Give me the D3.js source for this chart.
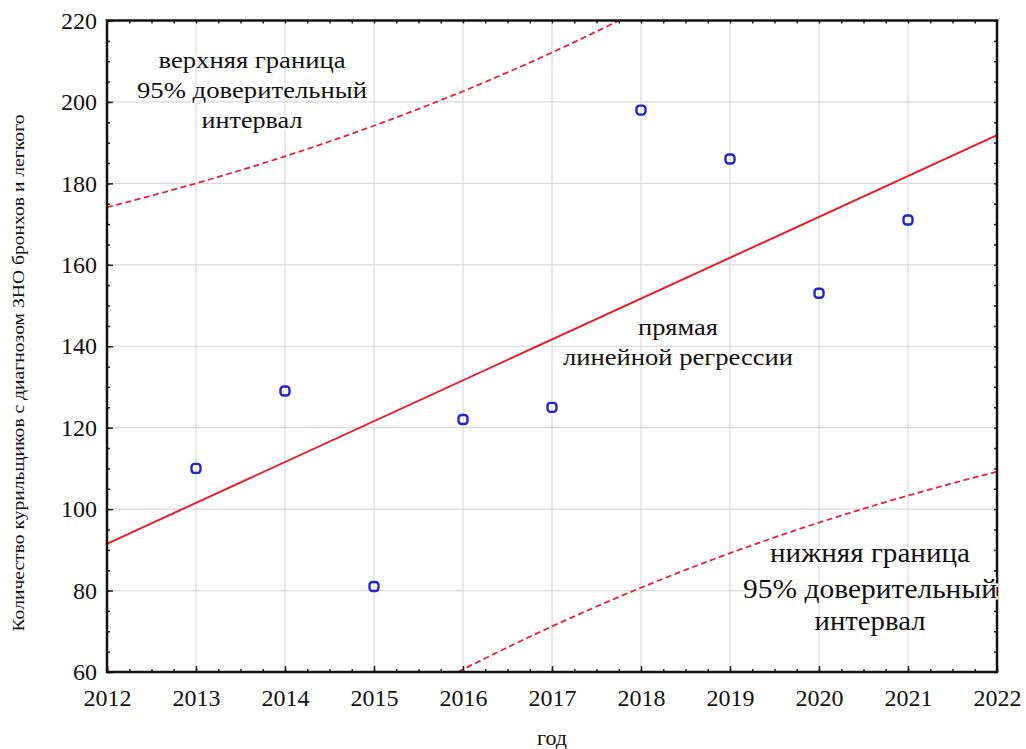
<!DOCTYPE html>
<html>
<head>
<meta charset="utf-8">
<script src="https://cdn.jsdelivr.net/npm/d3@7"></script>
<style>
  html, body { margin: 0; padding: 0; background: #fff; }
  svg { display: block; }
  text { font-family: "Liberation Serif", "Times New Roman", Times, serif; fill: #111; }
</style>
</head>
<body>
<svg id="chart" width="1026" height="749"></svg>
<script>
// Observations: smokers diagnosed with bronchial / lung cancer, by year
const years = [2013, 2014, 2015, 2016, 2017, 2018, 2019, 2020, 2021];
const counts = [110, 129, 81, 122, 125, 198, 186, 153, 171];

const xTicks = [2012, 2013, 2014, 2015, 2016, 2017, 2018, 2019, 2020, 2021, 2022];
const yTicks = [60, 80, 100, 120, 140, 160, 180, 200, 220];

const yTitle = "Количество курильщиков с диагнозом ЗНО бронхов и легкого";
const xTitle = "год";
const upperLabel = ["верхняя граница", "95% доверительный", "интервал"];
const fitLabel = ["прямая", "линейной регрессии"];
const lowerLabel = ["нижняя граница", "95% доверительный", "интервал"];

// Student t quantile, 0.975, df = n - 2 = 7
const tCrit = 2.3646;

const SERIF = '"Liberation Serif", "Times New Roman", Times, serif';
const svg = d3.select("#chart");
const M = { left: 107, right: 997, top: 20.5, bottom: 672 };

const x = d3.scaleLinear().domain([2012, 2022]).range([M.left, M.right]);
const y = d3.scaleLinear().domain([60, 220]).range([M.bottom, M.top]);

// Least-squares fit and 95% prediction band
const n = years.length;
const mx = d3.mean(years), my = d3.mean(counts);
const sxx = d3.sum(years, v => (v - mx) ** 2);
const sxy = d3.sum(years.map((v, i) => (v - mx) * (counts[i] - my)));
const slope = sxy / sxx;
const icpt = my - slope * mx;
const fit = v => icpt + slope * v;
const sse = d3.sum(years.map((v, i) => (counts[i] - fit(v)) ** 2));
const se = Math.sqrt(sse / (n - 2));
const half = v => tCrit * se * Math.sqrt(1 + 1 / n + (v - mx) ** 2 / sxx);

const xs = d3.range(0, 201).map(i => 2012 + i * 0.05);

// clip
svg.append("defs").append("clipPath").attr("id", "plotClip")
  .append("rect").attr("x", M.left).attr("y", M.top)
  .attr("width", M.right - M.left).attr("height", M.bottom - M.top);

// grid
const grid = svg.append("g").attr("stroke", "#dadada").attr("stroke-width", 1.2);
grid.selectAll(".gx").data(xTicks.slice(1, -1)).join("line")
  .attr("x1", d => x(d)).attr("x2", d => x(d))
  .attr("y1", M.top).attr("y2", M.bottom);
grid.selectAll(".gy").data(yTicks.slice(1, -1)).join("line")
  .attr("y1", d => y(d)).attr("y2", d => y(d))
  .attr("x1", M.left).attr("x2", M.right);

// fit + bands
const plot = svg.append("g").attr("clip-path", "url(#plotClip)");
const line = d3.line().x(d => x(d[0])).y(d => y(d[1]));
plot.append("path")
  .attr("d", line(xs.map(v => [v, fit(v) + half(v)])))
  .attr("fill", "none").attr("stroke", "#e3243a").attr("stroke-width", 1.8)
  .attr("stroke-dasharray", "6,3.5");
plot.append("path")
  .attr("d", line(xs.map(v => [v, fit(v) - half(v)])))
  .attr("fill", "none").attr("stroke", "#e3243a").attr("stroke-width", 1.8)
  .attr("stroke-dasharray", "6,3.5");
plot.append("path")
  .attr("d", line([[2012, fit(2012)], [2022, fit(2022)]]))
  .attr("fill", "none").attr("stroke", "#e81e30").attr("stroke-width", 2);

// points
svg.append("g").selectAll("rect").data(years).join("rect")
  .attr("x", (d) => x(d) - 4.5)
  .attr("y", (d, i) => y(counts[i]) - 4.5)
  .attr("width", 9).attr("height", 9).attr("rx", 3)
  .attr("fill", "none").attr("stroke", "#2626c4").attr("stroke-width", 2.4);

// axes (inward ticks)
const xAxis = svg.append("g").attr("transform", `translate(0,${M.bottom})`)
  .call(d3.axisBottom(x).tickValues(xTicks).tickFormat(d3.format("d"))
    .tickSize(-6).tickPadding(17));
const xMinor = svg.append("g").attr("transform", `translate(0,${M.bottom})`)
  .call(d3.axisBottom(x).tickValues(d3.range(2012, 2022.01, 0.25)).tickFormat("")
    .tickSize(-3));
const xTop = svg.append("g").attr("transform", `translate(0,${M.top})`)
  .call(d3.axisTop(x).tickValues(d3.range(2012, 2022.01, 0.25)).tickFormat("")
    .tickSize(-3));
const yAxis = svg.append("g").attr("transform", `translate(${M.left},0)`)
  .call(d3.axisLeft(y).tickValues(yTicks).tickSize(-6).tickPadding(10));
const yMinor = svg.append("g").attr("transform", `translate(${M.left},0)`)
  .call(d3.axisLeft(y).tickValues(d3.range(60, 220.1, 5)).tickFormat("").tickSize(-3));
const yRight = svg.append("g").attr("transform", `translate(${M.right},0)`)
  .call(d3.axisRight(y).tickValues(d3.range(60, 220.1, 5)).tickFormat("").tickSize(-3));

[xAxis, xMinor, xTop, yAxis, yMinor, yRight].forEach(g => {
  g.attr("font-family", SERIF);
  g.select(".domain").remove();
  g.selectAll(".tick line").attr("stroke", "#222").attr("stroke-width", 1.5);
  g.selectAll(".tick text").attr("font-family", SERIF)
    .style("font-size", "24px").attr("fill", "#222");
});

// frame
svg.append("rect")
  .attr("x", M.left).attr("y", M.top)
  .attr("width", M.right - M.left).attr("height", M.bottom - M.top)
  .attr("fill", "none").attr("stroke", "#111").attr("stroke-width", 2.5);

// annotation helper
function block(lines, cx, baselines, size, widths) {
  const g = svg.append("g");
  lines.forEach((t, i) => {
    g.append("text")
      .attr("x", cx).attr("y", baselines[i])
      .attr("text-anchor", "middle")
      .attr("font-family", SERIF)
      .attr("textLength", widths[i]).attr("lengthAdjust", "spacingAndGlyphs")
      .style("font-size", size + "px")
      .attr("stroke", "#fff").attr("stroke-width", 3).attr("paint-order", "stroke")
      .text(t);
  });
}
block(upperLabel, 252, [68, 98, 128], 24, [187, 230, 101]);
block(fitLabel, 678, [335, 365], 24, [80, 230]);
block(lowerLabel, 870, [562, 598, 630], 27, [200, 254, 111]);

// axis titles
svg.append("text")
  .attr("x", (M.left + M.right) / 2).attr("y", 745)
  .attr("text-anchor", "middle")
  .attr("font-family", SERIF)
  .style("font-size", "22px")
  .text(xTitle);
svg.append("text")
  .attr("transform", "translate(24,373) rotate(-90)")
  .attr("text-anchor", "middle")
  .attr("font-family", SERIF)
  .attr("textLength", 517).attr("lengthAdjust", "spacingAndGlyphs")
  .style("font-size", "16px")
  .text(yTitle);
</script>
</body>
</html>
